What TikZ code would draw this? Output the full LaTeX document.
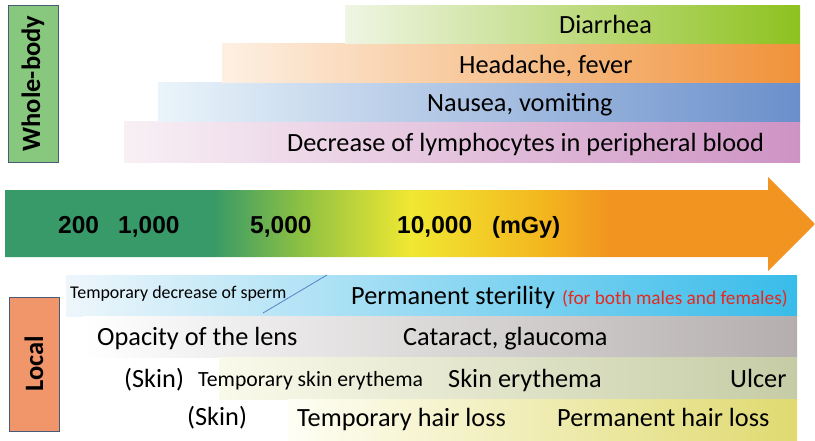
\documentclass[tikz,border=0pt]{standalone}
\usepackage{fontspec}
\setmainfont{Carlito}
\newfontfamily\numfont{Liberation Sans}
\definecolor{dgreen}{HTML}{389A68}
\definecolor{ygreen}{HTML}{8CC043}
\definecolor{dyellow}{HTML}{F0E832}
\definecolor{dorangeA}{HTML}{F3B81E}
\definecolor{dorange}{HTML}{F29420}
\definecolor{wbgreen}{HTML}{88C77E}
\definecolor{locorange}{HTML}{F1966A}
\definecolor{boxedge}{HTML}{475A78}
\definecolor{sred}{HTML}{E8281E}
\definecolor{slinec}{HTML}{5B7FC8}
\pgfdeclarehorizontalshading{doseshade}{100bp}{color(0bp)=(dgreen); color(37.84bp)=(dgreen); color(43.2bp)=(ygreen); color(50bp)=(dyellow); color(58bp)=(dorangeA); color(62.35bp)=(dorange); color(100bp)=(dorange)}
\begin{document}
\begin{tikzpicture}[x=1pt,y=-1pt,
  lbl/.style={anchor=base west, inner sep=0pt, font=\fontsize{26.3}{30}\selectfont},
  smalllbl/.style={anchor=base west, inner sep=0pt, font=\fontsize{17.9}{20}\selectfont},
  midlbl/.style={anchor=base west, inner sep=0pt, font=\fontsize{21.7}{24}\selectfont},
  numlbl/.style={anchor=base west, inner sep=0pt, font=\numfont\bfseries\fontsize{24.5}{26}\selectfont},
  sidebox/.style={draw=boxedge, line width=0.8pt, rotate=90, inner sep=0pt, font=\bfseries\fontsize{26.5}{30}\selectfont},
  sline/.style={draw=slinec, line width=0.8pt}]
\useasboundingbox (0,0) rectangle (815,440);

% side labels
\node[sidebox, fill=wbgreen, minimum width=157pt, minimum height=50pt] (wb) at (33,83.5) {Whole-body};
\node[sidebox, fill=locorange, minimum width=134pt, minimum height=50pt] (loc) at (34,364) {Local};

% whole-body bars
\shade[left color={rgb,255:red,248;green,240;blue,245}, right color={rgb,255:red,206;green,147;blue,196}] (124,121) rectangle (800,162);
\shade[left color={rgb,255:red,234;green,244;blue,250}, right color={rgb,255:red,106;green,143;blue,203}] (158,82) rectangle (800,121);
\shade[left color={rgb,255:red,253;green,240;blue,227}, right color={rgb,255:red,240;green,146;blue,58}] (222,43) rectangle (800,82);
\shade[left color={rgb,255:red,240;green,245;blue,228}, right color={rgb,255:red,141;green,194;blue,31}] (345,5) rectangle (800,43);

\node[lbl] (diar) at (559,33) {Diarrhea};
\node[lbl] (head) at (459,73) {Headache, fever};
\node[lbl] (naus) at (427,111) {Nausea, vomiting};
\node[lbl] (lymph) at (287,151) {Decrease of lymphocytes in peripheral blood};

% dose arrow
\shade[shading=doseshade] (5,190) -- (768,190) -- (768,177) -- (815,224) -- (768,271) -- (768,257) -- (5,257) -- cycle;
\node[numlbl] (d200) at (58,233) {200};
\node[numlbl] (d1000) at (118,233) {1,000};
\node[numlbl] (d5000) at (250,233) {5,000};
\node[numlbl] (d10000) at (397,233) {10,000};
\node[anchor=base west, inner sep=0pt, font=\numfont\bfseries\fontsize{23.5}{26}\selectfont] (unit) at (492,233) {(mGy)};

% local bars
\shade[left color={rgb,255:red,238;green,246;blue,251}, right color={rgb,255:red,56;green,188;blue,234}] (66,275) rectangle (797,316);
\shade[left color=white, right color={rgb,255:red,180;green,175;blue,174}] (83,316) rectangle (797,357);
\shade[left color={rgb,255:red,250;green,250;blue,235}, right color={rgb,255:red,197;green,204;blue,165}] (219,357) rectangle (797,399);
\shade[left color={rgb,255:red,254;green,254;blue,245}, right color={rgb,255:red,224;green,218;blue,112}] (288,399) rectangle (797,440);

\coordinate (s1) at (263,313);
\coordinate (s2) at (327,275);
\draw[sline] (s1) -- (s2);

\node[smalllbl] (sperm) at (70,298) {Temporary decrease of sperm};
\node[lbl] (steril) at (351,304) {Permanent sterility};
\node[anchor=base west, inner sep=0pt, font=\fontsize{19.3}{22}\selectfont, text=sred] (both) at (562,304) {(for both males and females)};
\node[lbl] (lens) at (97,345) {Opacity of the lens};
\node[lbl] (cata) at (403,345) {Cataract, glaucoma};
\node[lbl] (skin1) at (124,387) {(Skin)};
\node[midlbl] (tskin) at (198,386) {Temporary skin erythema};
\node[lbl] (skiner) at (448,387) {Skin erythema};
\node[lbl] (ulcer) at (730,387) {Ulcer};
\node[lbl] (skin2) at (187,425) {(Skin)};
\node[lbl] (thair) at (297,426) {Temporary hair loss};
\node[lbl] (phair) at (557,426) {Permanent hair loss};
\end{tikzpicture}
\end{document}
